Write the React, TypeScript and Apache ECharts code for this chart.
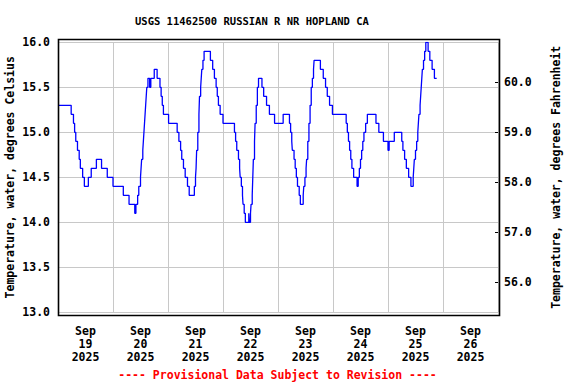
import React, { useEffect, useRef } from "react";
import * as echarts from "echarts";

// Hours since 2025-09-19 00:00 at which the reading changes, and the reading (deg C)
const hours = [
  0, 5.75, 6.75, 7.25, 7.75, 8.5, 9.25, 9.75, 10.75, 11.5, 13.25, 14.5, 16.75, 19, 21.5,
  24, 28.5, 31, 33.5, 34, 34.75, 35.25, 36, 36.25, 36.5, 37, 37.25, 37.5, 37.75, 38, 38.25,
  38.5, 38.75, 39.25, 40, 40.5, 42, 43.25, 44.5, 45, 45.5, 46, 48.25,
  52, 52.75, 53.5, 54, 54.75, 55.5, 56.5, 57.25, 59.5, 60, 60.25, 60.5, 61, 61.5, 61.75,
  62.25, 62.5, 62.75, 63.25, 63.75, 66.5, 67.5, 68.25, 69, 69.5, 70, 70.75, 72,
  77, 77.5, 78, 78.75, 79.25, 79.5, 80, 80.5, 80.75, 81.25, 81.75, 83.25, 83.5, 84, 84.25,
  84.75, 85, 85.25, 85.75, 86, 86.5, 87, 87.5, 89, 89.75, 91, 92.25, 94.5, 98.25,
  101, 101.5, 102, 102.25, 103, 103.5, 104, 104.5, 105.25, 105.75, 107, 107.25, 107.75,
  108.25, 108.5, 109, 109.5, 110, 110.5, 111, 111.5, 111.75, 114.5, 115.75, 116.75, 117.5,
  118.5, 119.75, 125.75, 126.25, 126.75, 127.25, 127.75, 128.25, 129, 130.5, 131, 131.5,
  132, 132.5, 133, 133.5, 134.25, 135, 138.75, 140, 142, 144, 144.5, 146.75,
  150, 150.5, 151.25, 152, 153, 154, 155, 155.25, 155.5, 156, 156.5, 157, 157.25, 157.5,
  158, 158.25, 158.5, 158.75, 159, 159.5, 160, 160.5, 161.5, 162.25, 163.25, 164.25, 165.25,
];
const tempC = [
  15.3, 15.2, 15.1, 15.0, 14.9, 14.8, 14.7, 14.6, 14.5, 14.4, 14.5, 14.6, 14.7, 14.6, 14.5,
  14.4, 14.3, 14.2, 14.1, 14.2, 14.3, 14.4, 14.5, 14.6, 14.7, 14.8, 14.9, 15.0, 15.1, 15.2, 15.3,
  15.4, 15.5, 15.6, 15.5, 15.6, 15.7, 15.6, 15.5, 15.4, 15.3, 15.2, 15.1,
  15.0, 14.9, 14.8, 14.7, 14.6, 14.5, 14.4, 14.3, 14.4, 14.5, 14.6, 14.8, 15.0, 15.2, 15.4,
  15.5, 15.6, 15.7, 15.8, 15.9, 15.8, 15.7, 15.6, 15.5, 15.4, 15.3, 15.2, 15.1,
  15.0, 14.9, 14.8, 14.7, 14.6, 14.5, 14.4, 14.3, 14.2, 14.1, 14.0, 14.1, 14.0, 14.1, 14.2,
  14.3, 14.5, 14.7, 14.9, 15.1, 15.3, 15.5, 15.6, 15.5, 15.4, 15.3, 15.2, 15.1, 15.2,
  15.1, 15.0, 14.9, 14.8, 14.7, 14.6, 14.5, 14.4, 14.3, 14.2, 14.3, 14.4, 14.5,
  14.6, 14.7, 14.9, 15.1, 15.3, 15.5, 15.6, 15.7, 15.8, 15.7, 15.6, 15.5, 15.4,
  15.3, 15.2, 15.1, 15.0, 14.9, 14.8, 14.7, 14.6, 14.5, 14.4, 14.5, 14.6,
  14.7, 14.8, 14.9, 15.0, 15.1, 15.2, 15.1, 15.0, 14.9, 14.8, 14.9, 15.0,
  14.9, 14.8, 14.7, 14.6, 14.5, 14.4, 14.5, 14.6, 14.7, 14.8, 14.9, 15.0, 15.1, 15.2,
  15.3, 15.4, 15.5, 15.6, 15.7, 15.8, 15.9, 16.0, 15.9, 15.8, 15.7, 15.6, 15.6,
];

const dayLabels = ["19", "20", "21", "22", "23", "24", "25", "26"];
const monthLabel = "Sep";
const yearLabel = "2025";
const titleText = "USGS 11462500 RUSSIAN R NR HOPLAND CA";
const noteText = "---- Provisional Data Subject to Revision ----";
const leftName = "Temperature, water, degrees Celsius";
const rightName = "Temperature, water, degrees Fahrenheit";

const FONT = "'DejaVu Sans Mono', 'Liberation Mono', monospace";

export default function App() {
  const ref = useRef<HTMLDivElement>(null);
  useEffect(() => {
    if (!ref.current) return;
    document.body.style.margin = "0";
    const chart = echarts.init(ref.current, undefined, { renderer: "svg" });
    const data = hours.map((h, i) => [h, tempC[i]]);
    const cMin = 13, cMax = 16;
    chart.setOption({
      animation: false,
      backgroundColor: "#ffffff",
      title: {
        text: titleText,
        left: 135,
        top: 15,
        padding: 0,
        textStyle: { fontFamily: FONT, fontWeight: "bold", fontSize: 10.5, color: "#000" },
      },
      grid: {
        left: 58,
        right: 78,
        top: 42.3,
        bottom: 71.7,
        containLabel: false,
        outerBoundsMode: "none",
      },
      xAxis: [
        {
          type: "value",
          min: 0,
          max: 192,
          interval: 24,
          position: "bottom",
          axisLine: { show: false, onZero: false },
          axisTick: { show: false },
          axisLabel: { show: false },
          splitLine: { show: true, lineStyle: { color: "#c8c8c8", width: 1 } },
        },
        {
          type: "value",
          min: 0,
          max: 192,
          interval: 12,
          position: "bottom",
          axisLine: { show: false, onZero: false },
          axisTick: { show: false },
          splitLine: { show: false },
          axisLabel: {
            show: true,
            margin: 12,
            fontFamily: FONT,
            fontWeight: "bold",
            fontSize: 11.5,
            lineHeight: 13,
            color: "#000",
            formatter: (v: number) => {
              if (Math.round(v) % 24 !== 12) return "";
              const d = dayLabels[Math.floor(v / 24)];
              return `${monthLabel}\n${d}\n${yearLabel}`;
            },
          },
        },
      ],
      yAxis: [
        {
          type: "value",
          min: cMin,
          max: cMax,
          interval: 0.5,
          position: "left",
          name: leftName,
          nameLocation: "middle",
          nameGap: 42,
          nameMoveOverlap: false,
          nameTextStyle: { fontFamily: FONT, fontWeight: "bold", fontSize: 11.5, color: "#000" },
          axisLine: { show: false, onZero: false },
          axisTick: { show: false },
          axisLabel: {
            margin: 8,
            fontFamily: FONT,
            fontWeight: "bold",
            fontSize: 11.5,
            color: "#000",
            formatter: (v: number) => v.toFixed(1),
          },
          splitLine: { show: true, lineStyle: { color: "#c8c8c8", width: 1 } },
        },
        {
          type: "value",
          min: cMin * 1.8 + 32,
          max: cMax * 1.8 + 32,
          position: "right",
          name: rightName,
          nameLocation: "middle",
          nameGap: 52,
          nameRotate: 90,
          nameMoveOverlap: false,
          nameTextStyle: { fontFamily: FONT, fontWeight: "bold", fontSize: 11.5, color: "#000" },
          axisLine: { show: false, onZero: false },
          axisTick: { show: true, inside: true, length: 3, lineStyle: { color: "#000" } },
          splitLine: { show: false },
          axisLabel: {
            margin: 6,
            showMinLabel: false,
            showMaxLabel: false,
            fontFamily: FONT,
            fontWeight: "bold",
            fontSize: 11.5,
            color: "#000",
            formatter: (v: number) => v.toFixed(1),
          },
        },
      ],
      series: [
        {
          type: "line",
          xAxisIndex: 0,
          yAxisIndex: 0,
          data,
          step: "end",
          showSymbol: false,
          symbol: "none",
          lineStyle: { color: "#0000ff", width: 1.3 },
          z: 3,
        },
      ],
      graphic: [
        {
          type: "rect",
          shape: { x: 58.5, y: 39.5, width: 441, height: 276 },
          style: { fill: "none", stroke: "#000", lineWidth: 1.6 },
          z: 100,
          silent: true,
        },
        {
          type: "text",
          x: 277.5,
          y: 375,
          style: {
            text: noteText,
            fill: "#ff0000",
            font: `bold 11.5px ${FONT}`,
            textAlign: "center",
            textVerticalAlign: "middle",
          },
        },
      ],
    });
    return () => chart.dispose();
  }, []);
  return <div ref={ref} style={{ width: 576, height: 384 }} />;
}
